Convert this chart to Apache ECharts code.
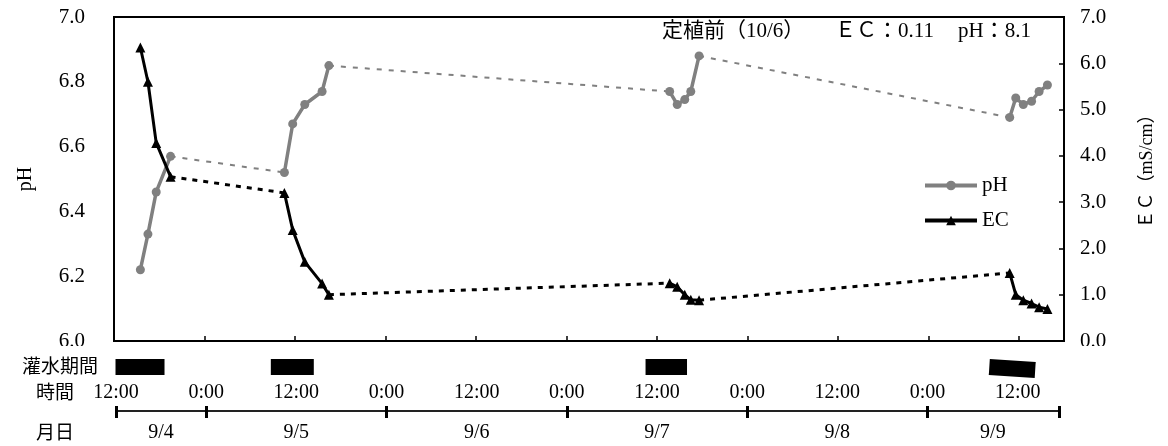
<!DOCTYPE html>
<html><head><meta charset="utf-8">
<script src="https://cdn.jsdelivr.net/npm/echarts@6/dist/echarts.min.js"></script>
<style>html,body{margin:0;padding:0;background:#fff}#c{width:1168px;height:446px}</style>
</head><body><div id="c"></div>
<script>
// ---- data (hours counted from 9/4 0:00) ----
const sessionHours = [
  [15.5, 16.5, 17.6, 19.5],
  [34.6, 35.7, 37.3, 39.6, 40.5],
  [85.7, 86.7, 87.7, 88.5, 89.6],
  [130.8, 131.6, 132.6, 133.7, 134.7, 135.8]
];
const phValues = [
  [6.22, 6.33, 6.46, 6.57],
  [6.52, 6.67, 6.73, 6.77, 6.85],
  [6.77, 6.73, 6.745, 6.77, 6.88],
  [6.69, 6.75, 6.73, 6.74, 6.77, 6.79]
];
const ecValues = [
  [6.34, 5.60, 4.28, 3.55],
  [3.20, 2.40, 1.71, 1.24, 1.00],
  [1.25, 1.17, 1.00, 0.89, 0.88],
  [1.47, 1.00, 0.88, 0.81, 0.73, 0.69]
];
const irrigationStart = [12.2, 32.8, 82.5, 128.1];
const irrigationEnd   = [18.7, 38.5, 88.0, 134.2];
const timeTicks  = [12, 24, 36, 48, 60, 72, 84, 96, 108, 120, 132];
const timeLabels = ['12:00','0:00','12:00','0:00','12:00','0:00','12:00','0:00','12:00','0:00','12:00'];
const dayBoundaries = [12, 24, 48, 72, 96, 120, 137.5];
const datePositions = [18, 36, 60, 84, 108, 128.7];
const dateLabels = ['9/4', '9/5', '9/6', '9/7', '9/8', '9/9'];
const noteTexts = ['定植前（10/6）', 'ＥＣ：0.11', 'pH：8.1'];
const rowLabels = ['灌水期間', '時間', '月日'];

// ---- styles ----
const SERIF = "'Liberation Serif', 'Noto Sans CJK JP', serif";
const MIX = "'Liberation Serif', 'Noto Sans CJK JP', serif";
const GRAY = '#808080';

const series = [];
sessionHours.forEach((hrs, i) => {
  series.push({
    name: 'pH', type: 'line', xAxisIndex: 0, yAxisIndex: 0,
    data: hrs.map((h, j) => [h, phValues[i][j]]),
    symbol: 'circle', symbolSize: 9,
    itemStyle: { color: GRAY }, lineStyle: { color: GRAY, width: 3.5 },
    z: 3, silent: true
  });
  series.push({
    name: 'EC', type: 'line', xAxisIndex: 0, yAxisIndex: 1,
    data: hrs.map((h, j) => [h, ecValues[i][j]]),
    symbol: 'triangle', symbolSize: 10,
    itemStyle: { color: '#000' }, lineStyle: { color: '#000', width: 3 },
    z: 4, silent: true
  });
  if (i < sessionHours.length - 1) {
    const n = hrs.length - 1, nh = sessionHours[i + 1];
    series.push({
      name: 'pH-link', type: 'line', xAxisIndex: 0, yAxisIndex: 0,
      data: [[hrs[n], phValues[i][n]], [nh[0], phValues[i + 1][0]]],
      symbol: 'none', lineStyle: { color: GRAY, width: 2, type: [5, 7] }, z: 2, silent: true
    });
    series.push({
      name: 'EC-link', type: 'line', xAxisIndex: 0, yAxisIndex: 1,
      data: [[hrs[n], ecValues[i][n]], [nh[0], ecValues[i + 1][0]]],
      symbol: 'none', lineStyle: { color: '#000', width: 3, type: [5, 6] }, z: 2, silent: true
    });
  }
});
series.push({
  name: 'irrigation', type: 'custom', xAxisIndex: 1, yAxisIndex: 2,
  data: irrigationStart.map((s, i) => [s, irrigationEnd[i], i]),
  renderItem: function (params, api) {
    const p0 = api.coord([api.value(0), 1]);
    const p1 = api.coord([api.value(1), 0]);
    const w = p1[0] - p0[0], h = p1[1] - p0[1];
    const last = api.value(2) === irrigationStart.length - 1;
    return {
      type: 'rect',
      shape: { x: p0[0], y: p0[1] + (last ? 1.5 : 0), width: w, height: h },
      rotation: last ? -0.065 : 0,
      originX: p0[0] + w / 2, originY: p0[1] + h / 2,
      style: { fill: '#000' }
    };
  },
  silent: true
});

const chart = echarts.init(document.getElementById('c'), null, { renderer: 'canvas' });
chart.setOption({
  animation: false,
  backgroundColor: '#fff',
  grid: [
    { left: 114, right: 104, top: 17, height: 324, show: true, borderColor: '#000', borderWidth: 2 },
    { left: 114, right: 104, top: 359, height: 16 },
    { left: 116, right: 109, top: 410, height: 1 }
  ],
  legend: {
    data: ['pH', 'EC'], orient: 'vertical', left: 918, top: 170,
    itemWidth: 52, itemHeight: 12, itemGap: 14, selectedMode: false,
    lineStyle: { width: 4 },
    textStyle: { fontFamily: SERIF, fontSize: 21, color: '#000' }
  },
  xAxis: [
    { type: 'value', gridIndex: 0, min: 12, max: 138,
      axisLine: { show: false }, splitLine: { show: false }, axisLabel: { show: false },
      axisTick: { show: true, inside: true, length: 5, customValues: timeTicks.slice(1), lineStyle: { color: '#000', width: 1.5 } } },
    { type: 'value', gridIndex: 1, min: 12, max: 138, show: false },
    { type: 'value', gridIndex: 2, min: 12, max: 137.5, position: 'top',
      axisLine: { show: true, lineStyle: { color: '#222', width: 2 } }, splitLine: { show: false },
      axisTick: { show: true, length: 5, customValues: dayBoundaries, lineStyle: { color: '#000', width: 3 } },
      axisLabel: { show: true, customValues: timeTicks, margin: 7,
        formatter: v => timeLabels[timeTicks.indexOf(v)],
        fontFamily: SERIF, fontSize: 20, color: '#000' } },
    { type: 'value', gridIndex: 2, min: 12, max: 137.5, position: 'bottom',
      axisLine: { show: true, lineStyle: { color: '#222', width: 2 } }, splitLine: { show: false },
      axisTick: { show: true, length: 7, customValues: dayBoundaries, lineStyle: { color: '#000', width: 3 } },
      axisLabel: { show: true, customValues: datePositions, margin: 12,
        formatter: v => dateLabels[datePositions.indexOf(v)],
        fontFamily: SERIF, fontSize: 20, color: '#000' } }
  ],
  yAxis: [
    { type: 'value', gridIndex: 0, min: 6, max: 7, interval: 0.2, position: 'left',
      axisLine: { show: false }, axisTick: { show: false }, splitLine: { show: false },
      axisLabel: { margin: 29, formatter: v => v.toFixed(1), fontFamily: SERIF, fontSize: 21, color: '#000' },
      name: 'pH', nameLocation: 'middle', nameGap: 78, nameRotate: 90,
      nameTextStyle: { fontFamily: SERIF, fontSize: 20, color: '#000' } },
    { type: 'value', gridIndex: 0, min: 0, max: 7, interval: 1, position: 'right',
      axisLine: { show: false }, splitLine: { show: false },
      axisTick: { show: true, inside: true, length: 5, lineStyle: { color: '#000', width: 1.5 } },
      axisLabel: { margin: 16, formatter: v => v.toFixed(1), fontFamily: SERIF, fontSize: 21, color: '#000' },
      name: 'ＥＣ（mS/cm）', nameLocation: 'middle', nameGap: 74, nameRotate: 90,
      nameTextStyle: { fontFamily: MIX, fontSize: 18, color: '#000', padding: [0, 0, 0, 24] } },
    { type: 'value', gridIndex: 1, min: 0, max: 1, show: false },
    { type: 'value', gridIndex: 2, min: 0, max: 1, show: false }
  ],
  graphic: [
    { type: 'rect', shape: { x: 0, y: 346, width: 110, height: 10 }, style: { fill: '#fff' }, z: 100 },
    { type: 'rect', shape: { x: 1068, y: 346, width: 70, height: 10 }, style: { fill: '#fff' }, z: 100 },
    { type: 'text', left: 662, top: 21, z: 101, style: { text: noteTexts[0], font: "21px " + MIX, fill: '#000' } },
    { type: 'text', left: 835, top: 21, z: 101, style: { text: noteTexts[1], font: "21px " + MIX, fill: '#000' } },
    { type: 'text', left: 958, top: 21, z: 101, style: { text: noteTexts[2], font: "21px " + MIX, fill: '#000' } },
    { type: 'text', right: 1168 - 98, top: 356, z: 101, style: { text: rowLabels[0], font: "19px 'Noto Sans CJK JP'", fill: '#000' } },
    { type: 'text', right: 1168 - 74, top: 382, z: 101, style: { text: rowLabels[1], font: "19px 'Noto Sans CJK JP'", fill: '#000' } },
    { type: 'text', right: 1168 - 74, top: 422, z: 101, style: { text: rowLabels[2], font: "19px 'Noto Sans CJK JP'", fill: '#000' } }
  ],
  series: series
});
</script></body></html>
